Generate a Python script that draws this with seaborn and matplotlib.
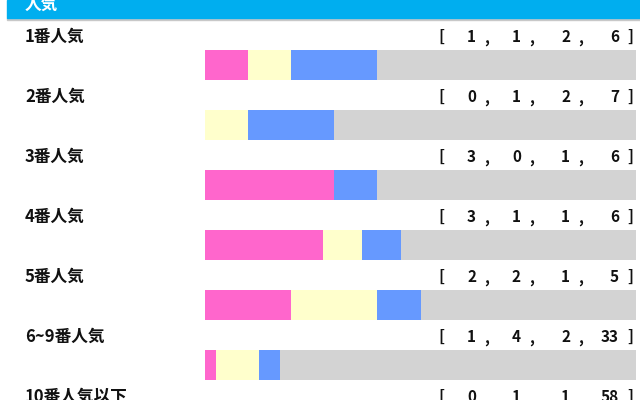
import numpy as np
import pandas as pd
import matplotlib
matplotlib.use('Agg')
import matplotlib.pyplot as plt
import matplotlib.transforms as mtrans
import seaborn as sns

# data
rows = ['1番人気', '2番人気', '3番人気', '4番人気', '5番人気', '6~9番人気', '10番人気以下']
first = [1, 0, 3, 3, 2, 1, 0]
second = [1, 1, 0, 1, 2, 4, 1]
third = [2, 2, 1, 1, 1, 2, 1]
other = [6, 7, 6, 6, 5, 33, 58]
header = '人気'

colors = ['#ff66cc', '#ffffcc', '#6699ff', '#d3d3d3']

df = pd.DataFrame({'row': rows, 'first': first, 'second': second,
                   'third': third, 'other': other})
total = df[['first', 'second', 'third', 'other']].sum(axis=1)
df['c1'] = df['first'] / total
df['c2'] = (df['first'] + df['second']) / total
df['c3'] = (df['first'] + df['second'] + df['third']) / total
df['c4'] = total / total

sns.set_theme(style='white')
plt.rcParams['font.family'] = ['Noto Sans CJK JP', 'DejaVu Sans']

W, H = 640, 400
fig = plt.figure(figsize=(6.4, 4.0), dpi=100)
# bar axes: x 205..636 px, rows every 60 px, first bar centre at 65 px
top_px, bottom_px = 35, 35 + 60 * len(rows)
ax = fig.add_axes([205 / W, (H - bottom_px) / H, 431 / W, (bottom_px - top_px) / H])

# stacked: draw cumulative from back to front
for col, c in zip(['c4', 'c3', 'c2', 'c1'], colors[::-1]):
    sns.barplot(data=df, y='row', x=col, color=c, orient='h', width=0.5,
                saturation=1, ax=ax, linewidth=0)

ax.set_xlim(0, 1)
ax.set_ylim(len(rows) - 0.5, -0.5)
ax.set_axis_off()

trans = mtrans.blended_transform_factory(fig.transFigure, ax.transData)
txt = dict(transform=trans, fontweight='bold', va='center', color='#111111', clip_on=False)
field_right = [476, 521, 570, 619]  # right edge of each number field, px
for i, r in df.iterrows():
    y = i - 0.47
    ax.text(25 / W, y, r['row'], fontsize=12, ha='left', **txt)
    ax.text(441 / W, y, '[', fontsize=11.5, ha='center', **txt)
    ax.text(630 / W, y, ']', fontsize=11.5, ha='center', **txt)
    vals = [r['first'], r['second'], r['third'], r['other']]
    for k, v in enumerate(vals):
        xr = field_right[k]
        ax.text(xr / W, y, str(v), fontsize=11, ha='right', **txt)
        if k < 3:
            ax.text((xr + 11) / W, y + 0.03, ',', fontsize=11, ha='center', **txt)

# header band
fig.patches.append(plt.Rectangle((7 / W, 1 - 20 / H), 633 / W, 2 / H,
                                 transform=fig.transFigure, color='#c8c8c8', zorder=0))
fig.patches.append(plt.Rectangle((7 / W, 1 - 18 / H), 633 / W, 18 / H,
                                 transform=fig.transFigure, color='#00aeef', zorder=1))
fig.text(25 / W, 1 - 5 / H, header, color='white', fontsize=12, fontweight='bold',
         va='center', ha='left')

fig.savefig('out.png', dpi=100)
